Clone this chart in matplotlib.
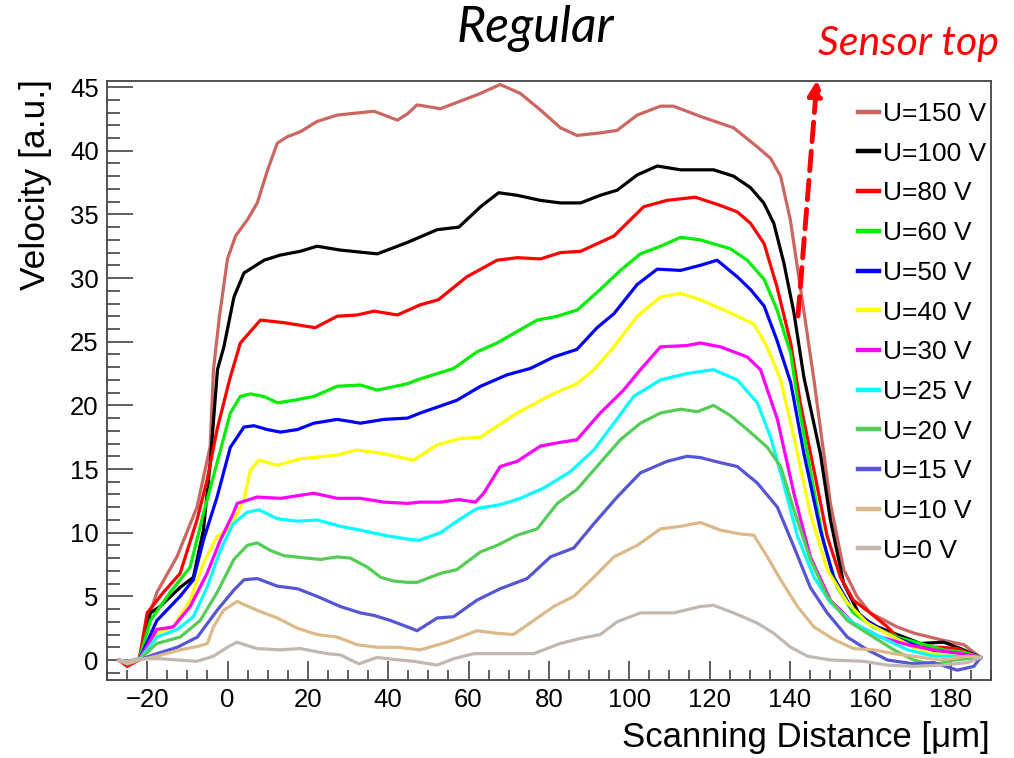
import matplotlib
matplotlib.use("Agg")
import matplotlib.pyplot as plt
from matplotlib.ticker import MultipleLocator

plt.rcParams['font.family'] = ['Liberation Sans', 'DejaVu Sans']

# ---------------- data ----------------
labels = ["U=150 V", "U=100 V", "U=80 V", "U=60 V", "U=50 V", "U=40 V",
          "U=30 V", "U=25 V", "U=20 V", "U=15 V", "U=10 V", "U=0 V"]
colors = ["#CC6660", "#000000", "#FF0000", "#00EE00", "#0000FF", "#FFFF00",
          "#FF00FF", "#00FFFF", "#55CC55", "#5555D5", "#DDB888", "#C2B8B0"]

x_u150 = [-27, -25, -22, -20, -17.6, -12.6, -7.6, -4.3, -3.5, -2, 0, 2, 5, 7.4, 10, 12.4, 14.9, 18.2,
          22.3, 27.3, 36.5, 42.3, 44.8, 47.2, 53, 58, 62.2, 67.9, 72.9, 77.9, 82.9, 87, 92.8, 97,
          102, 107.8, 111, 117.7, 126, 131.9, 135.2, 137.7, 140.1, 142.6, 146, 150.1, 153.4,
          156.7, 160, 166.7, 171, 177.5, 183.3, 187.5]
y_u150 = [0, -0.3, 0, 3.0, 5.3, 8.1, 12.0, 16.8, 22.8, 27, 31.5, 33.3, 34.6, 35.9, 38.5, 40.6, 41.1, 41.5,
          42.3, 42.8, 43.1, 42.4, 42.9, 43.6, 43.3, 43.9, 44.4, 45.2, 44.5, 43.2, 41.8, 41.2, 41.4, 41.6,
          42.8, 43.5, 43.5, 42.7, 41.8, 40.3, 39.4, 38.0, 34.6, 29.3, 22.0, 12.3, 7.1,
          5.0, 3.7, 2.6, 2.1, 1.6, 1.2, 0.2]

x_u100 = [-27, -25, -22, -19.2, -16.8, -11.8, -8.5, -6, -4.3, -2.5, -0.9, 1.6, 4.1, 9.1, 13.1, 18.1,
          22.3, 28, 37.3, 44.8, 52.2, 57.6, 63, 67.5, 72.1, 77.9, 82.9, 87.9, 92.8, 97, 102, 107,
          112.8, 117.7, 121, 126, 130.2, 133.5, 136, 138.5, 141, 143.5, 147.6, 150.1, 153.4, 157.6,
          161.8, 165.9, 172.5, 178.3, 182.5, 187.5]
y_u100 = [0, -0.3, 0, 3.7, 4.2, 5.7, 6.5, 10.2, 15.5, 22.8, 24.6, 28.5, 30.4, 31.4, 31.8, 32.1,
          32.5, 32.2, 31.9, 32.8, 33.8, 34.0, 35.6, 36.7, 36.5, 36.1, 35.9, 35.9, 36.5, 36.9, 38.1, 38.8,
          38.5, 38.5, 38.5, 38.0, 37.1, 35.9, 34.3, 31.2, 27.3, 22.2, 16.2, 11.0, 6.0, 3.4,
          2.6, 2.1, 1.3, 1.4, 0.9, 0.2]

x_u80 = [-27, -25, -22, -20, -16, -11.8, -7.6, -5.1, -2.6, 0.5, 3.2, 8.2, 14, 21.8, 27.3, 32.3, 36.5,
         42.3, 48, 52.5, 59.6, 67.1, 72.1, 77.9, 82.9, 87.9, 96.2, 103.6, 109.4, 116.5, 122.7, 126.9,
         130.2, 133.6, 136.8, 140.2, 142.6, 146, 149.3, 152.6, 155.8, 160, 164.3, 166.7, 170.8,
         177.5, 181.7, 187.5]
y_u80 = [0, -0.5, 0, 3.7, 5.3, 6.8, 11.0, 14.1, 18.1, 22.0, 24.9, 26.7, 26.5, 26.1, 27.0, 27.1, 27.4,
         27.1, 27.9, 28.3, 30.1, 31.4, 31.6, 31.5, 32.0, 32.1, 33.3, 35.6, 36.1, 36.35, 35.7, 35.2,
         34.3, 32.7, 29.3, 24.9, 20.2, 14.9, 9.7, 6.5, 4.7, 3.7, 2.6, 1.8, 1.0,
         1.0, 0.9, 0.2]

x_u60 = [-27, -25, -22, -19.2, -14.3, -9.3, -6, -2.6, 0.7, 3.2, 5.7, 9.1, 12.4, 16.5, 21.5, 27.3, 33.1,
         37.3, 44.8, 47.2, 56.3, 62.1, 67.1, 77.1, 82.1, 87.1, 92.8, 97.8, 102.8, 107.8, 112.8, 117.7,
         125.2, 129.4, 133.6, 136.8, 140.2, 141.8, 145.1, 148.4, 151.8, 155.8, 160.8, 166.7, 172.5,
         178.3, 183.3, 187.5]
y_u60 = [0, -0.3, 0, 3.1, 5.3, 7.3, 11.5, 15.5, 19.4, 20.7, 20.9, 20.7, 20.2, 20.4, 20.7, 21.5, 21.6,
         21.2, 21.7, 22.0, 22.9, 24.2, 24.9, 26.7, 27.0, 27.5, 29.1, 30.6, 31.9, 32.5, 33.2, 33.0,
         32.3, 31.4, 29.9, 27.5, 24.1, 20.7, 14.9, 9.2, 5.7, 3.7, 2.6, 1.8, 1.3,
         0.8, 0.6, 0.2]

x_u50 = [-27, -25, -22, -17.6, -11.8, -8.5, -6, -2.6, 0.7, 4.1, 6.6, 9.9, 13.2, 17.4, 21.5, 27.3, 33.1,
         39, 44.8, 48, 57.1, 63, 69.6, 75.4, 81.2, 87, 92, 96.2, 102, 107, 112.8, 117.7, 121.9, 126.9,
         130.2, 133.6, 136.8, 140.2, 143.5, 147.6, 150.9, 155.1, 160, 165.9, 172.5, 178.3, 183.3, 187.5]
y_u50 = [0, -0.3, 0, 3.1, 5.0, 6.3, 9.4, 12.8, 16.7, 18.3, 18.4, 18.1, 17.9, 18.1, 18.6, 18.9, 18.6,
         18.9, 19.0, 19.4, 20.4, 21.5, 22.4, 22.9, 23.8, 24.4, 26.1, 27.2, 29.5, 30.7, 30.6, 31.0, 31.4, 30.1,
         29.1, 27.8, 25.1, 21.8, 16.2, 10.2, 6.5, 4.2, 2.9, 1.8, 1.0, 0.5, 0.4, 0.2]

x_u40 = [-27, -25, -22, -17.6, -13.5, -9.3, -6, -2.6, 0, 1.6, 4.1, 5.7, 7.8, 12.4, 18.2, 27.3, 32.3, 39,
         44.8, 46.3, 52.2, 58, 63, 72.1, 80.4, 87, 91.2, 96.2, 102, 107.8, 112.8, 117.7, 123.5, 131,
         134.3, 137.7, 141, 145.1, 149.3, 154.3, 159.3, 165.9, 170.8, 175.8, 181.7, 187.5]
y_u40 = [0, -0.3, 0, 2.1, 2.6, 4.7, 7.6, 9.7, 10.2, 11.0, 12.6, 14.9, 15.7, 15.3, 15.8, 16.1, 16.5, 16.2,
         15.8, 15.7, 16.9, 17.4, 17.5, 19.4, 20.8, 21.7, 22.8, 24.6, 27.0, 28.5, 28.8, 28.3, 27.5, 26.4,
         24.6, 22.0, 17.5, 11.5, 7.1, 4.5, 2.9, 1.8, 1.0, 0.5, 0.4, 0.2]

x_u30 = [-27, -25, -22, -17.6, -13.5, -9.3, -5.1, -1.8, 1.4, 2.4, 7.4, 13.2, 21.5, 27.3, 33.1, 39, 44.8,
         48, 53, 57.6, 61.7, 63.8, 67.9, 72.1, 77.9, 82.9, 87, 92.8, 98.6, 102.8, 107.8, 114.4, 117.7,
         122.7, 129.4, 132.7, 136.9, 141, 145.1, 150.1, 155.8, 162.6, 169.3, 175.8, 182.5, 187.5]
y_u30 = [0, -0.3, 0, 2.4, 2.6, 4.2, 6.8, 9.4, 11.5, 12.3, 12.8, 12.7, 13.1, 12.7, 12.7, 12.4, 12.3,
         12.4, 12.4, 12.6, 12.4, 13.1, 15.2, 15.6, 16.8, 17.1, 17.3, 19.4, 21.2, 22.8, 24.6, 24.7, 24.9,
         24.6, 23.8, 22.8, 18.9, 13.1, 8.1, 4.7, 2.9, 1.8, 1.2, 0.8, 0.5, 0.2]

x_u25 = [-27, -25, -22, -17.6, -12.5, -8.5, -5.1, -1.8, 1.4, 4.9, 7.8, 12.4, 17.4, 22.3, 28.1, 33.1, 39,
         44.8, 47.6, 53, 57.6, 62.1, 67.9, 72.9, 78.7, 85.4, 91.2, 96.2, 101.1, 107.8, 114.4, 121,
         126.9, 131.9, 135.2, 138.4, 141.9, 146, 150.1, 155.8, 162.6, 169.3, 175.8, 180.8, 187.5]
y_u25 = [0, -0.3, 0, 1.8, 2.4, 3.4, 5.7, 8.6, 10.7, 11.6, 11.8, 11.1, 10.9, 11.0, 10.5, 10.2, 9.8,
         9.5, 9.4, 10.0, 11.0, 11.9, 12.2, 12.7, 13.5, 14.8, 16.5, 18.6, 20.7, 22.0, 22.5, 22.8,
         22.0, 20.2, 17.5, 13.9, 9.7, 6.5, 4.5, 2.9, 1.8, 0.8, 0.3, 0.3, 0.2]

x_u20 = [-27, -25, -22, -17.6, -11.8, -6.8, -2.6, 1.6, 4.9, 7.4, 10.7, 14, 19.8, 23.2, 27.3, 30.6, 34.8,
         38.1, 41.4, 44.8, 47.2, 53, 57.1, 63, 67.1, 72.1, 77.1, 82.1, 87, 92.8, 97.8, 102.8, 107.8,
         112.8, 117, 121, 125.2, 129.4, 134.4, 137.7, 141, 145.1, 149.3, 154.3, 159.3, 165.9, 170.8,
         175.8, 180.8, 187.5]
y_u20 = [0, -0.3, 0, 1.3, 1.8, 3.1, 5.3, 7.9, 9.0, 9.2, 8.6, 8.2, 8.0, 7.9, 8.1, 8.0, 7.3,
         6.5, 6.2, 6.1, 6.1, 6.8, 7.1, 8.5, 9.0, 9.8, 10.3, 12.3, 13.4, 15.5, 17.3, 18.6, 19.4,
         19.7, 19.5, 20.0, 19.2, 18.1, 16.7, 15.2, 11.8, 7.9, 5.0, 3.1, 2.1, 0.8, 0.0,
         -0.4, 0.0, 0.2]

x_u15 = [-27, -25, -22, -17.6, -12.5, -7.5, -2.6, 1.6, 4.1, 7.4, 12.4, 17.4, 22.3, 28.1, 33.1, 36.5,
         40.6, 44.8, 47.2, 52.2, 56.3, 62.1, 67.9, 74.6, 80.4, 86.2, 91.2, 97, 102.8, 109.4, 114.4,
         117.7, 122.7, 126.9, 131.9, 136.9, 141, 145.1, 149.3, 154.3, 159.3, 164.3, 170.8, 175.8,
         181.7, 185.8, 187.5]
y_u15 = [0, -0.3, 0, 0.5, 1.0, 1.8, 3.9, 5.5, 6.3, 6.4, 5.8, 5.6, 5.0, 4.2, 3.7, 3.5,
         3.1, 2.6, 2.3, 3.3, 3.4, 4.7, 5.6, 6.4, 8.1, 8.8, 10.7, 12.8, 14.7, 15.6, 16.0,
         15.9, 15.5, 15.2, 13.9, 12.0, 8.9, 5.7, 3.7, 1.8, 0.8, 0.0, -0.3, -0.2,
         -0.8, -0.5, 0.2]

x_u10 = [-27, -25, -22, -17.6, -11.8, -7, -5, -3.5, -1, 2.4, 7.4, 12.4, 17.4, 22.3, 27.3, 32.3, 37.3,
         42.3, 48, 54.6, 62.1, 67.1, 71.2, 76.2, 81.2, 86.2, 91.2, 96.2, 102, 107.8, 112.8, 117.7,
         122.7, 127.7, 131, 134.4, 137.7, 141.9, 146, 151, 155.8, 160.8, 165.9, 170.8, 177.5, 184.2, 187.5]
y_u10 = [0, -0.3, 0, 0.3, 0.8, 1.1, 1.3, 2.6, 3.9, 4.6, 3.9, 3.3, 2.5, 2.0, 1.8, 1.2, 1.0,
         1.0, 0.8, 1.4, 2.3, 2.1, 2.0, 3.1, 4.2, 5.0, 6.5, 8.1, 9.0, 10.3, 10.5, 10.8,
         10.2, 9.9, 9.8, 8.1, 6.3, 4.2, 2.6, 1.6, 0.9, 0.8, 0.5, 0.3, 0.0, 0.3, 0.2]

x_u0 = [-27, -25, -22.6, -16.8, -7.6, -3.5, 0, 2.3, 7.3, 13.1, 18.1, 24.8, 28.1, 32.7, 37.2, 41.3, 46.3,
        52.2, 56.3, 61.3, 67.9, 76.2, 82.9, 87.9, 92.8, 97, 102.8, 111.1, 117.7, 121, 126, 131.9, 136,
        140.2, 144.4, 150.1, 158.3, 164.3, 170.8, 177.5, 184.2, 187.5]
y_u0 = [0, -0.1, 0.1, 0.1, -0.1, 0.3, 1.0, 1.4, 0.9, 0.8, 0.9, 0.5, 0.4, -0.3, 0.2, 0.05, -0.1,
        -0.4, 0.1, 0.5, 0.5, 0.5, 1.3, 1.7, 2.0, 3.0, 3.7, 3.7, 4.2, 4.3, 3.7, 2.9, 2.1,
        1.0, 0.3, 0.0, -0.1, -0.4, -0.5, -0.4, -0.2, 0.2]

xs = [x_u150, x_u100, x_u80, x_u60, x_u50, x_u40, x_u30, x_u25, x_u20, x_u15, x_u10, x_u0]
ys = [y_u150, y_u100, y_u80, y_u60, y_u50, y_u40, y_u30, y_u25, y_u20, y_u15, y_u10, y_u0]

# ---------------- figure ----------------
W, H = 1014, 758
fig = plt.figure(figsize=(W / 100, H / 100), dpi=100)
ax = fig.add_axes([107 / W, 1 - 680 / H, (990.7 - 107) / W, (680 - 80.7) / H])

for x, y, c, lab in zip(xs, ys, colors, labels):
    ax.plot(x, y, color=c, lw=2.3, label=lab, solid_joinstyle='round')

ax.set_xlim(-30, 190)
ax.set_ylim(-1.57, 45.5)
ax.xaxis.set_major_locator(MultipleLocator(20))
ax.xaxis.set_minor_locator(MultipleLocator(5))
ax.yaxis.set_major_locator(MultipleLocator(5))
ax.yaxis.set_minor_locator(MultipleLocator(1))
ax.tick_params(axis='x', which='major', direction='in', length=14, width=1.1, color='#333333',
               labelsize=18.5, pad=6)
ax.tick_params(axis='x', which='minor', direction='in', length=7, width=1.1, color='#333333')
ax.tick_params(axis='y', which='major', direction='in', length=19, width=1.1, color='#333333',
               labelsize=18.5, pad=6)
ax.tick_params(axis='y', which='minor', direction='in', length=9.5, width=1.1, color='#333333')
for s in ax.spines.values():
    s.set_color('#444444')
    s.set_linewidth(1.3)

fig.text(990 / W, 1 - 738 / H, "Scanning Distance [μm]", ha='right', va='center', fontsize=25)
fig.text(36 / W, 1 - 79 / H, "Velocity [a.u.]", ha='center', va='top', rotation=90, fontsize=25.5)

fig.text(535 / W, 1 - 28 / H, "Regular", ha='center', va='center', fontsize=36,
         style='italic', family=['Lato', 'DejaVu Sans'])
fig.text(908 / W, 1 - 43 / H, "Sensor top", ha='center', va='center', fontsize=29.5,
         style='italic', color='#FF0000', family=['Lato', 'DejaVu Sans'])

ax.annotate("", xy=(817, H - 80), xycoords='figure pixels',
            xytext=(798, H - 316), textcoords='figure pixels',
            arrowprops=dict(arrowstyle='-|>,head_length=0.9,head_width=0.45', color='#FF0000',
                            lw=3.5, linestyle=(0, (4, 2)), shrinkA=0, shrinkB=0),
            annotation_clip=False)

leg = ax.legend(loc='upper left', bbox_to_anchor=(858 / W, 1 - 102 / H),
                bbox_transform=fig.transFigure, frameon=False, fontsize=19,
                handlelength=0.8, handletextpad=0.15, labelspacing=0.595, borderaxespad=0,
                borderpad=0)
for l in leg.get_lines():
    l.set_linewidth(3.2)

fig.savefig("out.png", dpi=100)
